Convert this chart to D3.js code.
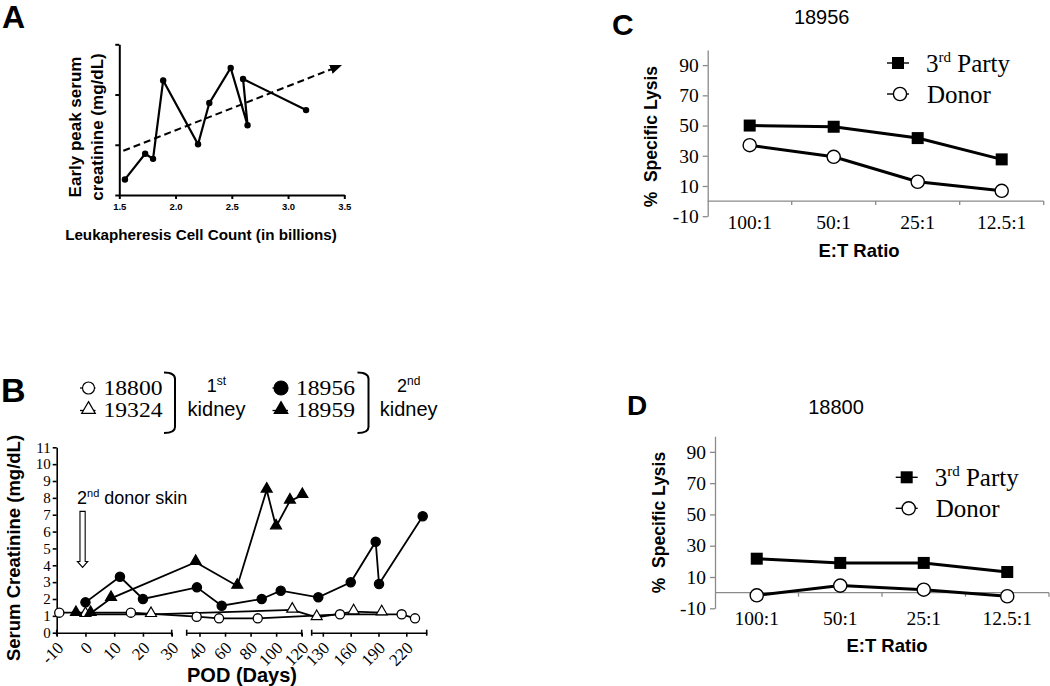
<!DOCTYPE html>
<html><head><meta charset="utf-8">
<script src="https://cdn.jsdelivr.net/npm/d3@7"></script>
<style>body{margin:0;background:#fff}</style>
</head><body><svg id="c" width="1050" height="686" xmlns="http://www.w3.org/2000/svg"></svg>
<script>
// ---------- Panel A data ----------
const aCellCount  = [1.55, 1.73, 1.80, 1.89, 2.20, 2.30, 2.49, 2.64, 2.60, 3.16];
const aCreatinine = [0.31, 0.82, 0.72, 2.28, 1.01, 1.83, 2.53, 1.39, 2.31, 1.69];
const aTrendX = [1.536, 3.46];
const aTrendY = [0.88, 2.57];
const aXTicks = [1.5, 2.0, 2.5, 3.0, 3.5];
const aYTicks = [0, 1, 2, 3];

// ---------- Panel B data ----------
const b18800Day = [-9.1, 15.8, 37.8, 55.3, 85.6, 148.5, 215, 229.4];
const b18800Val = [1.19, 1.19, 0.95, 0.85, 0.85, 1.09, 1.09, 0.85];
const b19324Day = [0, 22.8, 112.6, 123.4, 163.2, 193.5];
const b19324Val = [1.09, 1.09, 1.35, 0.91, 1.25, 1.19];
const b18956Day = [0, 12, 20, 38, 57.4, 88.7, 103.6, 125.1, 160.1, 187, 190.6, 237.7];
const b18956Val = [1.8, 3.32, 2.0, 2.69, 1.6, 2.0, 2.49, 2.1, 2.99, 5.4, 2.89, 6.91];
const b18959Day = [-3.3, 1.8, 8.9, 37, 69.6, 92.6, 99.9, 110.8, 120.5];
const b18959Val = [1.15, 1.15, 2.04, 4.18, 2.77, 8.47, 6.29, 7.82, 8.15];
const bYTicks = [0,1,2,3,4,5,6,7,8,9,10,11];
const bSegDomains = [[-10, 30], [30, 120], [118, 242]];
const bSegTicks = [[-10, 0, 10, 20, 30], [40, 60, 80, 100, 120], [130, 160, 190, 220]];
const bArrowDay = -1, bArrowFrom = 7.2, bArrowTo = 3.87;

// ---------- Panels C / D data ----------
const ratios = ["100:1", "50:1", "25:1", "12.5:1"];
const c3rdParty = [50, 49.2, 41.7, 27.6];
const cDonor    = [37, 29.3, 12.8, 6.8];
const d3rdParty = [21.7, 19, 19, 13.2];
const dDonor    = [-1.7, 4.5, 1.9, -2.3];
const lysisYTicks = [-10, 10, 30, 50, 70, 90];

const SANS = "Arial, 'Liberation Sans', sans-serif";
const SERIF = "'Liberation Serif', 'Times New Roman', serif";
const plain = d => String(d);
const svg = d3.select("#c");

function styleAxis(g, font, size, weight, sw, color) {
  g.attr("font-family", font).attr("font-size", size).attr("font-weight", weight || "normal");
  g.select(".domain").attr("stroke-width", sw).attr("stroke", color || "#000");
  g.selectAll(".tick line").attr("stroke-width", sw).attr("stroke", color || "#000");
  g.selectAll(".tick text").attr("fill", "#000");
}

// ================= Panel A =================
(function () {
  const x = d3.scaleLinear([1.5, 3.5], [119.3, 344.3]);
  const y = d3.scaleLinear([0, 3], [195, 44.3]);
  const g = svg.append("g");
  g.append("text").attr("x", 2).attr("y", 28).attr("font-family", SANS).attr("font-weight", "bold")
    .attr("font-size", 32).text("A");
  g.append("g").attr("transform", "translate(0,195)")
    .call(d3.axisBottom(x).tickValues(aXTicks).tickFormat(d3.format(".1f")).tickSize(4).tickSizeOuter(0).tickPadding(4))
    .call(a => styleAxis(a, SANS, 9.5, "bold", 2));
  g.append("g").attr("transform", "translate(119.3,0)")
    .call(d3.axisLeft(y).tickValues(aYTicks).tickFormat("").tickSize(4).tickSizeOuter(0))
    .call(a => styleAxis(a, SANS, 9, "bold", 2));
  const defs = svg.append("defs");
  defs.append("marker").attr("id", "arrA").attr("viewBox", "0 0 10 10").attr("refX", 8).attr("refY", 5)
    .attr("markerWidth", 6).attr("markerHeight", 6).attr("orient", "auto")
    .append("path").attr("d", "M0,1 L10,5 L0,9 Z").attr("fill", "#000");
  g.append("line").attr("x1", x(aTrendX[0])).attr("y1", y(aTrendY[0])).attr("x2", x(aTrendX[1])).attr("y2", y(aTrendY[1]))
    .attr("stroke", "#000").attr("stroke-width", 2).attr("stroke-dasharray", "7,4").attr("marker-end", "url(#arrA)");
  const idx = d3.range(aCellCount.length);
  g.append("path").attr("fill", "none").attr("stroke", "#000").attr("stroke-width", 2.2)
    .attr("d", d3.line().x(i => x(aCellCount[i])).y(i => y(aCreatinine[i]))(idx));
  g.selectAll("circle.a").data(idx).join("circle").attr("cx", i => x(aCellCount[i])).attr("cy", i => y(aCreatinine[i]))
    .attr("r", 3.2).attr("fill", "#000");
  const yl = g.append("text").attr("font-family", SANS).attr("font-weight", "bold").attr("font-size", 17)
    .attr("text-anchor", "middle").attr("transform", "translate(81,127) rotate(-90)");
  yl.append("tspan").attr("x", 0).attr("y", 0).text("Early peak serum");
  yl.append("tspan").attr("x", 0).attr("y", 21.5).text("creatinine (mg/dL)");
  g.append("text").attr("x", 201).attr("y", 240).attr("text-anchor", "middle").attr("font-family", SANS)
    .attr("font-weight", "bold").attr("font-size", 15.2).text("Leukapheresis Cell Count (in billions)");
})();

// ================= Panel B =================
(function () {
  const ranges = [[56.7, 171.7], [186.7, 301.7], [311.7, 426.7]];
  const segs = bSegDomains.map((d, i) => d3.scaleLinear(d, ranges[i]));
  const xB = d => d <= 30 ? segs[0](d) : (d <= 121 ? segs[1](d) : segs[2](d));
  const y = d3.scaleLinear([0, 11], [632.7, 447.3]);
  const g = svg.append("g");
  g.append("text").attr("x", 1).attr("y", 401.5).attr("font-family", SANS).attr("font-weight", "bold")
    .attr("font-size", 34).text("B");

  g.append("g").attr("transform", "translate(56.7,0)")
    .call(d3.axisLeft(y).tickValues(bYTicks).tickFormat(plain).tickSize(4).tickSizeOuter(0).tickPadding(2))
    .call(a => styleAxis(a, SERIF, 15, "normal", 1.6));
  segs.forEach((s, i) => {
    const ax = g.append("g").attr("transform", "translate(0,632.7)")
      .call(d3.axisBottom(s).tickValues(bSegTicks[i]).tickFormat(plain).tickSize(4).tickSizeOuter(0))
      .call(a => styleAxis(a, SERIF, 17, "normal", 1.6));
    ax.selectAll(".tick text").attr("x", 0).attr("y", 0).attr("dy", "0.35em").attr("text-anchor", "end")
      .attr("transform", "translate(3,12) rotate(-45)");
    s.range().forEach(r => ax.append("line").attr("x1", r).attr("x2", r).attr("y1", -3).attr("y2", 3)
      .attr("stroke", "#000").attr("stroke-width", 1.6));
  });

  const series = [
    {day: b18800Day, val: b18800Val, sym: "circle", fill: "#fff"},
    {day: b19324Day, val: b19324Val, sym: "triangle", fill: "#fff"},
    {day: b18959Day, val: b18959Val, sym: "triangle", fill: "#000"},
    {day: b18956Day, val: b18956Val, sym: "circle", fill: "#000"}
  ];
  const line = d3.line().x(p => xB(p[0])).y(p => y(p[1]));
  series.forEach(s => {
    const pts = s.day.map((d, i) => [d, s.val[i]]);
    g.append("path").attr("d", line(pts)).attr("fill", "none").attr("stroke", "#000").attr("stroke-width", 1.8);
  });
  const tri = d3.symbol().type(d3.symbolTriangle).size(52);
  series.forEach(s => {
    const pts = s.day.map((d, i) => [d, s.val[i]]);
    if (s.sym === "circle") {
      g.selectAll(null).data(pts).join("circle").attr("cx", p => xB(p[0])).attr("cy", p => y(p[1])).attr("r", 4.6)
        .attr("fill", s.fill).attr("stroke", "#000").attr("stroke-width", 1.3);
    } else {
      g.selectAll(null).data(pts).join("path").attr("d", tri)
        .attr("transform", p => `translate(${xB(p[0])},${y(p[1]) - 1})`)
        .attr("fill", s.fill).attr("stroke", "#000").attr("stroke-width", 1.2);
    }
  });

  const ax0 = xB(bArrowDay), yt = y(bArrowFrom), yb = y(bArrowTo);
  g.append("path").attr("d", `M${ax0 - 2.6},${yt} L${ax0 + 2.6},${yt} L${ax0 + 2.6},${yb - 6} L${ax0 + 5.2},${yb - 6} L${ax0},${yb} L${ax0 - 5.2},${yb - 6} L${ax0 - 2.6},${yb - 6} Z`)
    .attr("fill", "#fff").attr("stroke", "#000").attr("stroke-width", 1.1);
  const at = g.append("text").attr("x", 77).attr("y", 504).attr("font-family", SANS).attr("font-size", 18);
  at.append("tspan").text("2");
  at.append("tspan").attr("font-size", 11).attr("dy", -7).text("nd");
  at.append("tspan").attr("dy", 7).text(" donor skin");

  g.append("text").attr("transform", "translate(20,548) rotate(-90)").attr("text-anchor", "middle")
    .attr("font-family", SANS).attr("font-weight", "bold").attr("font-size", 18.5).text("Serum Creatinine (mg/dL)");
  g.append("text").attr("x", 242).attr("y", 682).attr("text-anchor", "middle")
    .attr("font-family", SANS).attr("font-weight", "bold").attr("font-size", 20).text("POD (Days)");

  const lg = g.append("g");
  const legItems = [
    {name: "18800", x: 88.5, y: 388, sym: "circle", fill: "#fff"},
    {name: "19324", x: 88.5, y: 410.5, sym: "triangle", fill: "#fff"},
    {name: "18956", x: 281, y: 388, sym: "circle", fill: "#000"},
    {name: "18959", x: 281, y: 410.5, sym: "triangle", fill: "#000"}
  ];
  const triL = d3.symbol().type(d3.symbolTriangle).size(80);
  legItems.forEach(it => {
    lg.append("line").attr("x1", it.x - 8.5).attr("x2", it.x + 7).attr("y1", it.y).attr("y2", it.y)
      .attr("stroke", "#000").attr("stroke-width", 1.3);
    if (it.sym === "circle") lg.append("circle").attr("cx", it.x).attr("cy", it.y).attr("r", it.fill === "#000" ? 7 : 6)
      .attr("fill", it.fill).attr("stroke", "#000").attr("stroke-width", 1.2);
    else lg.append("path").attr("d", triL).attr("transform", `translate(${it.x},${it.y - 1})`)
      .attr("fill", it.fill).attr("stroke", "#000").attr("stroke-width", 1.2);
    lg.append("text").attr("x", it.x + 15).attr("y", it.y + 6.5).attr("font-family", SERIF).attr("font-size", 20.5)
      .attr("textLength", 59).attr("lengthAdjust", "spacingAndGlyphs").text(it.name);
  });
  const bracket = (x0) => `M${x0},372.5 Q${x0 + 11},372.5 ${x0 + 11},379 L${x0 + 11},427 Q${x0 + 11},433 ${x0},433`;
  lg.append("path").attr("d", bracket(164)).attr("fill", "none").attr("stroke", "#000").attr("stroke-width", 2);
  lg.append("path").attr("d", bracket(357.5)).attr("fill", "none").attr("stroke", "#000").attr("stroke-width", 2);
  [{c: 216.5, n: "1", s: "st"}, {c: 408.7, n: "2", s: "nd"}].forEach(k => {
    const t = lg.append("text").attr("x", k.c).attr("y", 391.5).attr("text-anchor", "middle").attr("font-family", SANS).attr("font-size", 18);
    t.append("tspan").text(k.n);
    t.append("tspan").attr("font-size", 12).attr("dy", -7).text(k.s);
    lg.append("text").attr("x", k.c).attr("y", 416).attr("text-anchor", "middle").attr("font-family", SANS)
      .attr("font-size", 20).text("kidney");
  });
})();

// ================= Panels C & D =================
function lysisPanel(cfg) {
  const g = svg.append("g");
  const x = d3.scaleBand(ratios, cfg.xr);
  const y = d3.scaleLinear([-10, 100], cfg.yr);
  const bw = x.bandwidth();
  const cx = c => x(c) + bw / 2;
  g.append("text").attr("x", cfg.letterX).attr("y", cfg.letterY).attr("font-family", SANS).attr("font-weight", "bold")
    .attr("font-size", cfg.letterSize).text(cfg.letter);
  g.append("text").attr("x", cfg.titleX).attr("y", cfg.titleY).attr("text-anchor", "middle").attr("font-family", SANS)
    .attr("font-size", 20).text(cfg.title);
  g.append("g").attr("transform", `translate(${cfg.xr[0]},0)`)
    .call(d3.axisLeft(y).tickValues(lysisYTicks).tickFormat(plain).tickSize(5).tickSizeOuter(0).tickPadding(4))
    .call(a => styleAxis(a, SERIF, 19.5, "normal", 1.3, "#8a8a8a"));
  const y0 = y(0);
  g.append("line").attr("x1", cfg.xr[0]).attr("x2", cfg.xr[1]).attr("y1", y0).attr("y2", y0)
    .attr("stroke", "#8a8a8a").attr("stroke-width", 1.3);
  ratios.slice(1).map(c => x(c)).concat([cfg.xr[1]]).forEach(px => {
    g.append("line").attr("x1", px).attr("x2", px).attr("y1", y0).attr("y2", y0 + 4).attr("stroke", "#8a8a8a").attr("stroke-width", 1.3);
  });
  g.selectAll(null).data(ratios).join("text").attr("x", cx).attr("y", cfg.tickLabelY).attr("text-anchor", "middle")
    .attr("font-family", SERIF).attr("font-size", 19.5).text(d => d);
  g.append("text").attr("x", cfg.xLabX).attr("y", cfg.xLabY).attr("text-anchor", "middle").attr("font-family", SANS)
    .attr("font-weight", "bold").attr("font-size", 18.5).text("E:T Ratio");
  g.append("text").attr("transform", `translate(${cfg.yLabX},${cfg.yLabY}) rotate(-90)`).attr("text-anchor", "middle")
    .attr("font-family", SANS).attr("font-weight", "bold").attr("font-size", 17.5).attr("xml:space", "preserve")
    .text("%  Specific Lysis");
  const line = d3.line().x((d, i) => cx(ratios[i])).y(d => y(d));
  [cfg.third, cfg.donor].forEach(s => g.append("path").attr("d", line(s)).attr("fill", "none")
    .attr("stroke", "#000").attr("stroke-width", 3));
  g.selectAll(null).data(cfg.third).join("rect").attr("x", (d, i) => cx(ratios[i]) - 6).attr("y", d => y(d) - 6)
    .attr("width", 12).attr("height", 12).attr("fill", "#000");
  g.selectAll(null).data(cfg.donor).join("circle").attr("cx", (d, i) => cx(ratios[i])).attr("cy", d => y(d))
    .attr("r", 6.6).attr("fill", "#fff").attr("stroke", "#000").attr("stroke-width", 1.4);
  const lx = cfg.legX, ly = cfg.legY;
  g.append("line").attr("x1", lx - 11).attr("x2", lx + 11).attr("y1", ly).attr("y2", ly).attr("stroke", "#000").attr("stroke-width", 1.4);
  g.append("rect").attr("x", lx - 6).attr("y", ly - 6).attr("width", 12).attr("height", 12).attr("fill", "#000");
  g.append("line").attr("x1", lx - 11).attr("x2", lx + 11).attr("y1", ly + 31).attr("y2", ly + 31).attr("stroke", "#000").attr("stroke-width", 1.4);
  g.append("circle").attr("cx", lx + 2).attr("cy", ly + 31).attr("r", 6.6).attr("fill", "#fff").attr("stroke", "#000").attr("stroke-width", 1.4);
  const t1 = g.append("text").attr("x", lx + 28).attr("y", ly + 8.5).attr("font-family", SERIF).attr("font-size", 25);
  t1.append("tspan").text("3");
  t1.append("tspan").attr("font-size", 15).attr("dy", -10).text("rd");
  t1.append("tspan").attr("dy", 10).text(" Party");
  g.append("text").attr("x", lx + 29).attr("y", ly + 39.5).attr("font-family", SERIF).attr("font-size", 25).text("Donor");
}

lysisPanel({letter: "C", letterX: 612, letterY: 35, letterSize: 30, title: "18956", titleX: 821.7, titleY: 24,
  xr: [707.7, 1043.7], yr: [216.2, 50], third: c3rdParty, donor: cDonor, tickLabelY: 228.5,
  xLabX: 859, xLabY: 257, yLabX: 657, yLabY: 136.7, legX: 898, legY: 63});
lysisPanel({letter: "D", letterX: 627, letterY: 415, letterSize: 28, title: "18800", titleX: 836, titleY: 414,
  xr: [715, 1049], yr: [608.3, 436.2], third: d3rdParty, donor: dDonor, tickLabelY: 625,
  xLabX: 887, xLabY: 652, yLabX: 665, yLabY: 522.5, legX: 906.7, legY: 477.3});
</script>
</body></html>
